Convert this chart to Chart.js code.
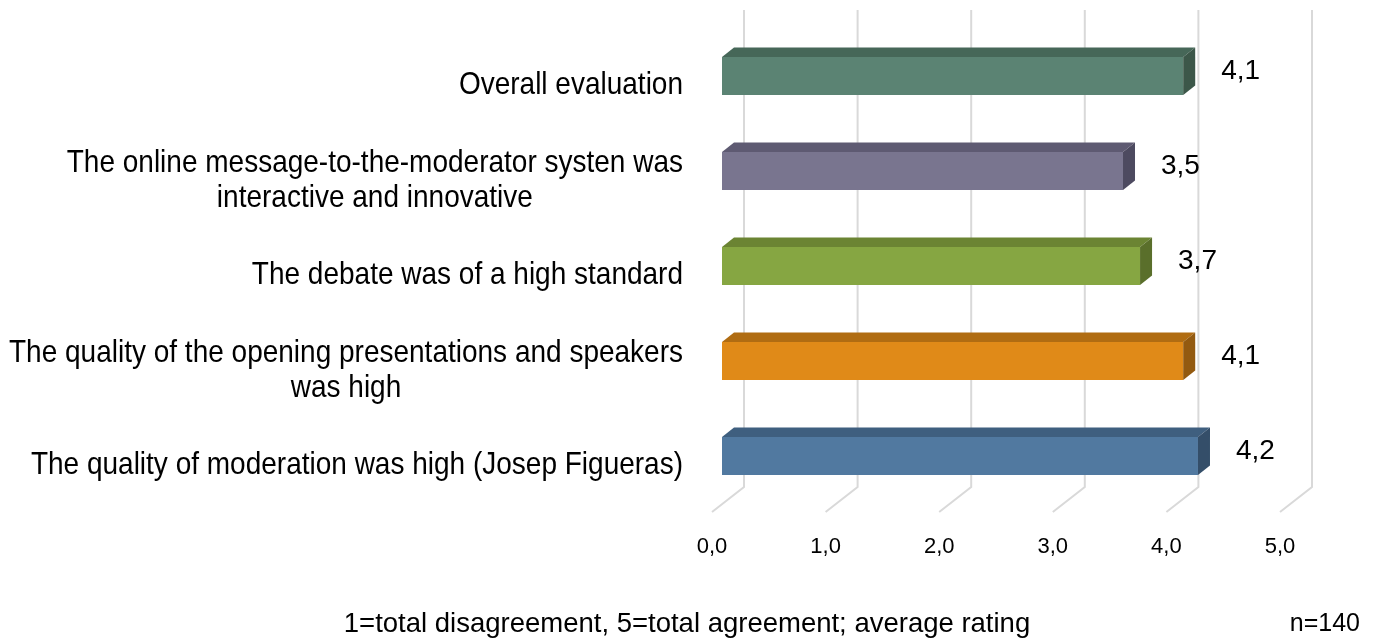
<!DOCTYPE html>
<html>
<head>
<meta charset="utf-8">
<title>Evaluation ratings</title>
<script src="https://cdn.jsdelivr.net/npm/chart.js@4.4.1/dist/chart.umd.min.js"></script>
<style>
    html, body { margin: 0; padding: 0; background: #ffffff; }
    #wrap { width: 1376px; height: 639px; }
</style>
</head>
<body>
<div id="wrap"><canvas id="chart" width="1376" height="639"></canvas></div>
<script>
// Chart data
const categories = [
    ['Overall evaluation'],
    ['The online message-to-the-moderator systen was', 'interactive and innovative'],
    ['The debate was of a high standard'],
    ['The quality of the opening presentations and speakers', 'was high'],
    ['The quality of moderation was high (Josep Figueras)']
];
const ratings = [4.06, 3.53, 3.68, 4.06, 4.19];
const axisTicks = [0, 1, 2, 3, 4, 5];
const footnote = '1=total disagreement, 5=total agreement; average rating';
const sampleSize = 'n=140';

// Bar face colours (front, top, side)
const frontColors = ['#5b8373', '#79758f', '#86a642', '#e08a18', '#5179a0'];
const topColors = ['#466758', '#5e5a72', '#6b8433', '#b06c12', '#3f5f7f'];
const sideColors = ['#3c5749', '#4d4a60', '#5a6f2b', '#935a10', '#344e69'];

const FONT = "'Liberation Sans', Arial, sans-serif";
// oblique offsets of the 3D look, relative to the bar front plane
const BACK = { dx: 22, dy: -16.5 };
const FLOOR = { dx: -10, dy: 8.5 };
const DEPTH = { dx: 12, dy: -9.5 };

function fmt(v) {
    return v.toFixed(1).replace('.', ',');
}

const threeD = {
    id: 'threeD',
    beforeDatasetsDraw(chart) {
        const { ctx, chartArea, scales } = chart;
        const x = scales.x;
        ctx.save();
        ctx.strokeStyle = '#d9d9d9';
        ctx.lineWidth = 2;
        axisTicks.forEach(t => {
            const px = x.getPixelForValue(t);
            ctx.beginPath();
            ctx.moveTo(px + BACK.dx, chartArea.top + BACK.dy - 2);
            ctx.lineTo(px + BACK.dx, chartArea.bottom + BACK.dy);
            ctx.lineTo(px + FLOOR.dx, chartArea.bottom + FLOOR.dy);
            ctx.stroke();
        });
        ctx.restore();
    },
    afterDatasetsDraw(chart) {
        const { ctx, scales } = chart;
        const meta = chart.getDatasetMeta(0);
        ctx.save();
        meta.data.forEach((bar, i) => {
            const p = bar.getProps(['x', 'y', 'base', 'height'], true);
            const top = p.y - p.height / 2;
            const bottom = p.y + p.height / 2;

            // top face
            ctx.fillStyle = topColors[i];
            ctx.beginPath();
            ctx.moveTo(p.base, top);
            ctx.lineTo(p.base + DEPTH.dx, top + DEPTH.dy);
            ctx.lineTo(p.x + DEPTH.dx, top + DEPTH.dy);
            ctx.lineTo(p.x, top);
            ctx.closePath();
            ctx.fill();

            // right face
            ctx.fillStyle = sideColors[i];
            ctx.beginPath();
            ctx.moveTo(p.x, top);
            ctx.lineTo(p.x + DEPTH.dx, top + DEPTH.dy);
            ctx.lineTo(p.x + DEPTH.dx, bottom + DEPTH.dy);
            ctx.lineTo(p.x, bottom);
            ctx.closePath();
            ctx.fill();

            // value label
            ctx.fillStyle = '#000000';
            ctx.font = '28px ' + FONT;
            ctx.textAlign = 'left';
            ctx.textBaseline = 'middle';
            ctx.fillText(fmt(ratings[i]), p.x + 38, p.y - 5);
        });

        // category labels: block right aligned, lines centred, slightly tall glyphs
        const y = scales.y;
        ctx.font = '28px ' + FONT;
        ctx.textAlign = 'center';
        ctx.textBaseline = 'middle';
        ctx.fillStyle = '#000000';
        categories.forEach((lines, i) => {
            const maxW = Math.max(...lines.map(l => ctx.measureText(l).width));
            const cx = 683 - maxW / 2;
            const cy = y.getPixelForValue(i) + 10;
            const lh = 35;
            lines.forEach((l, k) => {
                ctx.save();
                ctx.translate(cx, cy + (k - (lines.length - 1) / 2) * lh);
                ctx.scale(1, 1.1);
                ctx.fillText(l, 0, 0);
                ctx.restore();
            });
        });

        // footnote and sample size
        ctx.textBaseline = 'alphabetic';
        ctx.font = '27.5px ' + FONT;
        ctx.textAlign = 'center';
        ctx.fillText(footnote, 687, 632);
        ctx.font = '25px ' + FONT;
        ctx.textAlign = 'right';
        ctx.fillText(sampleSize, 1360, 631);
        ctx.restore();
    }
};

new Chart(document.getElementById('chart'), {
    type: 'bar',
    data: {
        labels: categories,
        datasets: [{
            data: ratings,
            backgroundColor: frontColors,
            borderWidth: 0,
            categoryPercentage: 1,
            barPercentage: 0.4
        }]
    },
    options: {
        indexAxis: 'y',
        responsive: false,
        animation: false,
        layout: {
            padding: { left: 722, right: 86, top: 28.5, bottom: 75.5 }
        },
        plugins: {
            legend: { display: false },
            tooltip: { enabled: false }
        },
        scales: {
            x: {
                min: 0,
                max: 5,
                afterBuildTicks: scale => {
                    scale.ticks = axisTicks.map(v => ({ value: v }));
                },
                afterFit: scale => { scale.height = 60; },
                grid: { display: false, drawTicks: false },
                border: { display: false },
                ticks: {
                    padding: 30,
                    labelOffset: -10,
                    color: '#000000',
                    font: { family: FONT, size: 22 },
                    callback: v => fmt(v)
                }
            },
            y: {
                display: false
            }
        }
    },
    plugins: [threeD]
});
</script>
</body>
</html>
